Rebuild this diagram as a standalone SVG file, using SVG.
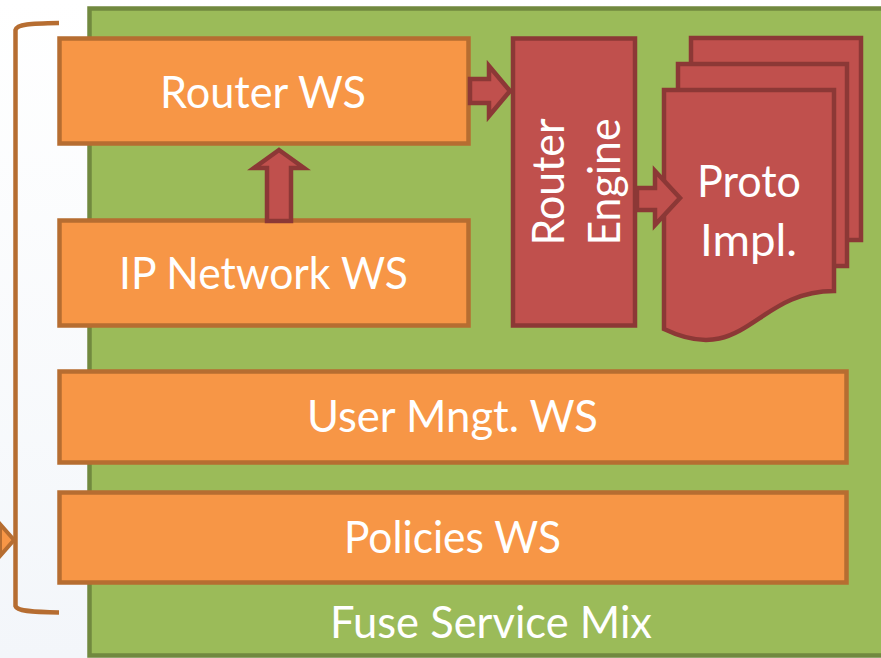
<svg xmlns="http://www.w3.org/2000/svg" width="881" height="658" viewBox="0 0 881 658">
  <defs>
    <linearGradient id="paper" x1="0" y1="0" x2="0" y2="1">
      <stop offset="0" stop-color="#ffffff"/>
      <stop offset="1" stop-color="#f3f6fa"/>
    </linearGradient>
    <style>
      .ws { fill: #F79646; stroke: #B66D31; stroke-width: 4.5; }
      .red { fill: #C0504D; stroke: #8C3836; stroke-width: 4.5; stroke-linejoin: miter; }
      .mix { fill: #9BBB59; stroke: #71893F; stroke-width: 4.5; }
      .lbl { fill: #ffffff; font-family: Lato, "Open Sans", "DejaVu Sans", sans-serif; font-size: 44px; text-anchor: middle; }
      .brace { fill: none; stroke: #B66D31; stroke-width: 4.5; stroke-linecap: butt; }
    </style>
  </defs>

  <!-- page background -->
  <rect x="0" y="0" width="881" height="658" fill="url(#paper)"/>

  <!-- container: Fuse Service Mix -->
  <g id="fuse-service-mix">
    <rect class="mix" x="89.5" y="8.5" width="800" height="647"/>
    <text class="lbl" x="491" y="638" textLength="322" lengthAdjust="spacingAndGlyphs">Fuse Service Mix</text>
  </g>

  <!-- left brace grouping the services -->
  <g id="brace">
    <path class="brace" d="M59,23 C30,23.5 17,24 15.5,30 L15.5,606 C17,611 30,612 59,612.5"/>
    <path d="M0,524 L14,540 L0,556 Z" fill="#F79646" stroke="#B66D31" stroke-width="4"/>
  </g>

  <g id="router-ws">
    <rect class="ws" x="59.5" y="38.5" width="409" height="105"/>
    <text class="lbl" x="263" y="108" textLength="206" lengthAdjust="spacingAndGlyphs">Router WS</text>
  </g>

  <g id="ip-network-ws">
    <rect class="ws" x="59.5" y="220.5" width="409" height="105"/>
    <text class="lbl" x="263.5" y="289" textLength="289" lengthAdjust="spacingAndGlyphs">IP Network WS</text>
  </g>

  <g id="user-mngt-ws">
    <rect class="ws" x="59.5" y="371.5" width="787" height="91"/>
    <text class="lbl" x="452.5" y="432" textLength="291" lengthAdjust="spacingAndGlyphs">User Mngt. WS</text>
  </g>

  <g id="policies-ws">
    <rect class="ws" x="59.5" y="492.5" width="787" height="90"/>
    <text class="lbl" x="452.5" y="553" textLength="217" lengthAdjust="spacingAndGlyphs">Policies WS</text>
  </g>

  <g id="router-engine">
    <rect class="red" x="513" y="38.5" width="122" height="287"/>
    <text class="lbl" transform="translate(564,182) rotate(-90)" textLength="127" lengthAdjust="spacingAndGlyphs">Router</text>
    <text class="lbl" transform="translate(620,182) rotate(-90)" textLength="127" lengthAdjust="spacingAndGlyphs">Engine</text>
  </g>

  <g id="proto-impl">
    <rect class="red" x="691" y="38" width="170" height="202"/>
    <rect class="red" x="678" y="64" width="169" height="202"/>
    <path class="red" d="M664,90 L834,90 L834,291 C755,291 745,368 664,329 Z"/>
    <text class="lbl" x="749" y="197" textLength="104" lengthAdjust="spacingAndGlyphs">Proto</text>
    <text class="lbl" x="748.5" y="256" textLength="97" lengthAdjust="spacingAndGlyphs">Impl.</text>
  </g>

  <!-- block-arrow connectors -->
  <g id="connectors">
    <path class="red" d="M470,79 L489,79 L489,66 L510,91 L489,116 L489,103 L470,103 Z"/>
    <path class="red" d="M279,150 L304,168 L291,168 L291,221 L267,221 L267,168 L254,168 Z"/>
    <path class="red" d="M637,188 L655,188 L655,171 L680,198 L655,225 L655,210 L637,210 Z"/>
  </g>
</svg>
